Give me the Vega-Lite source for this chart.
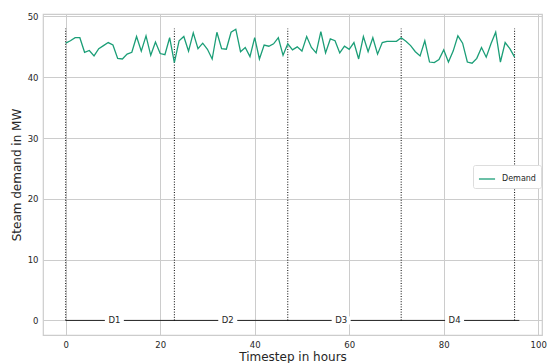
{
  "$schema": "https://vega.github.io/schema/vega-lite/v6.json",
  "width": 499,
  "height": 321,
  "autosize": {"type": "none"},
  "padding": {"left": 43, "top": 14, "right": 6, "bottom": 28},
  "background": "white",
  "config": {
    "font": "DejaVu Sans",
    "view": {"stroke": "#cccccc", "strokeWidth": 1.2},
    "axis": {
      "domain": false,
      "ticks": false,
      "gridColor": "#cccccc",
      "gridWidth": 1,
      "labelFont": "DejaVu Sans",
      "labelFontSize": 8.5,
      "labelColor": "#262626",
      "titleFont": "DejaVu Sans",
      "titleFontSize": 12,
      "titleFontWeight": "normal",
      "titleColor": "#262626"
    }
  },
  "datasets": {
    "demand": [
      {"t": 0, "v": 45.6}, {"t": 1, "v": 46.0}, {"t": 2, "v": 46.5}, {"t": 3, "v": 46.5}, {"t": 4, "v": 44.1},
      {"t": 5, "v": 44.4}, {"t": 6, "v": 43.5}, {"t": 7, "v": 44.7}, {"t": 8, "v": 45.2}, {"t": 9, "v": 45.7},
      {"t": 10, "v": 45.3}, {"t": 11, "v": 43.1}, {"t": 12, "v": 43.0}, {"t": 13, "v": 43.8}, {"t": 14, "v": 44.1},
      {"t": 15, "v": 46.7}, {"t": 16, "v": 44.3}, {"t": 17, "v": 46.8}, {"t": 18, "v": 43.6}, {"t": 19, "v": 45.8},
      {"t": 20, "v": 43.9}, {"t": 21, "v": 43.7}, {"t": 22, "v": 46.5}, {"t": 23, "v": 42.4}, {"t": 24, "v": 46.0},
      {"t": 25, "v": 46.7}, {"t": 26, "v": 44.3}, {"t": 27, "v": 47.3}, {"t": 28, "v": 44.7}, {"t": 29, "v": 45.6},
      {"t": 30, "v": 44.6}, {"t": 31, "v": 43.0}, {"t": 32, "v": 47.4}, {"t": 33, "v": 44.7}, {"t": 34, "v": 44.6},
      {"t": 35, "v": 47.4}, {"t": 36, "v": 47.9}, {"t": 37, "v": 44.2}, {"t": 38, "v": 44.9}, {"t": 39, "v": 43.4},
      {"t": 40, "v": 46.5}, {"t": 41, "v": 43.0}, {"t": 42, "v": 45.3}, {"t": 43, "v": 45.1}, {"t": 44, "v": 45.5},
      {"t": 45, "v": 46.5}, {"t": 46, "v": 43.6}, {"t": 47, "v": 45.5}, {"t": 48, "v": 44.5}, {"t": 49, "v": 45.0},
      {"t": 50, "v": 44.3}, {"t": 51, "v": 46.7}, {"t": 52, "v": 44.9}, {"t": 53, "v": 44.0}, {"t": 54, "v": 47.5},
      {"t": 55, "v": 44.0}, {"t": 56, "v": 46.3}, {"t": 57, "v": 46.0}, {"t": 58, "v": 44.0}, {"t": 59, "v": 45.1},
      {"t": 60, "v": 44.6}, {"t": 61, "v": 45.7}, {"t": 62, "v": 43.0}, {"t": 63, "v": 46.7}, {"t": 64, "v": 44.2},
      {"t": 65, "v": 46.5}, {"t": 66, "v": 43.8}, {"t": 67, "v": 45.7}, {"t": 68, "v": 45.9}, {"t": 69, "v": 45.9},
      {"t": 70, "v": 45.9}, {"t": 71, "v": 46.5}, {"t": 72, "v": 45.9}, {"t": 73, "v": 45.2}, {"t": 74, "v": 44.2},
      {"t": 75, "v": 43.5}, {"t": 76, "v": 46.0}, {"t": 77, "v": 42.5}, {"t": 78, "v": 42.4}, {"t": 79, "v": 42.9},
      {"t": 80, "v": 44.5}, {"t": 81, "v": 42.5}, {"t": 82, "v": 44.3}, {"t": 83, "v": 46.8}, {"t": 84, "v": 45.6},
      {"t": 85, "v": 42.5}, {"t": 86, "v": 42.3}, {"t": 87, "v": 43.1}, {"t": 88, "v": 44.9}, {"t": 89, "v": 43.3},
      {"t": 90, "v": 45.5}, {"t": 91, "v": 47.4}, {"t": 92, "v": 42.5}, {"t": 93, "v": 45.7}, {"t": 94, "v": 44.7},
      {"t": 95, "v": 43.3}
    ],
    "bounds": [{"x": 0, "lo": 0, "hi": 48}, {"x": 23, "lo": 0, "hi": 48}, {"x": 47, "lo": 0, "hi": 48}, {"x": 71, "lo": 0, "hi": 48}, {"x": 95, "lo": 0, "hi": 48}],
    "span": [{"start": 0, "end": 96, "y": 0}],
    "days": [{"x": 10.3, "y": 0, "label": "D1"}, {"x": 34.3, "y": 0, "label": "D2"}, {"x": 58.3, "y": 0, "label": "D3"}, {"x": 82.3, "y": 0, "label": "D4"}]
  },
  "layer": [
    {
      "data": {"name": "span"},
      "mark": {"type": "rule", "color": "#222222", "strokeWidth": 1},
      "encoding": {
        "x": {"field": "start", "type": "quantitative", "scale": {"domain": [-4.8, 100.8], "nice": false, "zero": false},
          "axis": {"values": [0, 20, 40, 60, 80, 100], "title": "Timestep in hours", "labelPadding": 5, "titlePadding": 3}},
        "x2": {"field": "end"},
        "y": {"field": "y", "type": "quantitative", "scale": {"domain": [-2.4, 50.4], "nice": false, "zero": false},
          "axis": {"values": [0, 10, 20, 30, 40, 50], "title": "Steam demand in MW", "labelPadding": 5, "titlePadding": 4}}
      }
    },
    {
      "data": {"name": "days"},
      "mark": {"type": "tick", "orient": "horizontal", "color": "white", "opacity": 1, "thickness": 8, "size": 19},
      "encoding": {
        "x": {"field": "x", "type": "quantitative"},
        "y": {"field": "y", "type": "quantitative"}
      }
    },
    {
      "data": {"name": "days"},
      "mark": {"type": "text", "fontSize": 8.5, "color": "#262626", "font": "DejaVu Sans", "baseline": "middle", "align": "center"},
      "encoding": {
        "x": {"field": "x", "type": "quantitative"},
        "y": {"field": "y", "type": "quantitative"},
        "text": {"field": "label", "type": "nominal"}
      }
    },
    {
      "data": {"name": "bounds"},
      "mark": {"type": "rule", "color": "black", "strokeWidth": 1, "strokeDash": [1, 1.6]},
      "encoding": {
        "x": {"field": "x", "type": "quantitative"},
        "y": {"field": "lo", "type": "quantitative"},
        "y2": {"field": "hi"}
      }
    },
    {
      "data": {"name": "demand"},
      "mark": {"type": "line", "strokeWidth": 1.3},
      "encoding": {
        "x": {"field": "t", "type": "quantitative"},
        "y": {"field": "v", "type": "quantitative"},
        "color": {"datum": "Demand", "type": "nominal",
          "scale": {"range": ["#1b9e77"]},
          "legend": {"title": null, "orient": "none", "legendX": 430, "legendY": 151,
            "fillColor": "white", "strokeColor": "#dddddd", "cornerRadius": 2, "padding": 5,
            "symbolType": "stroke", "symbolSize": 260, "symbolStrokeWidth": 1.3,
            "labelFontSize": 8, "labelColor": "#262626", "labelFont": "DejaVu Sans", "labelOffset": 6}}
      }
    }
  ]
}
